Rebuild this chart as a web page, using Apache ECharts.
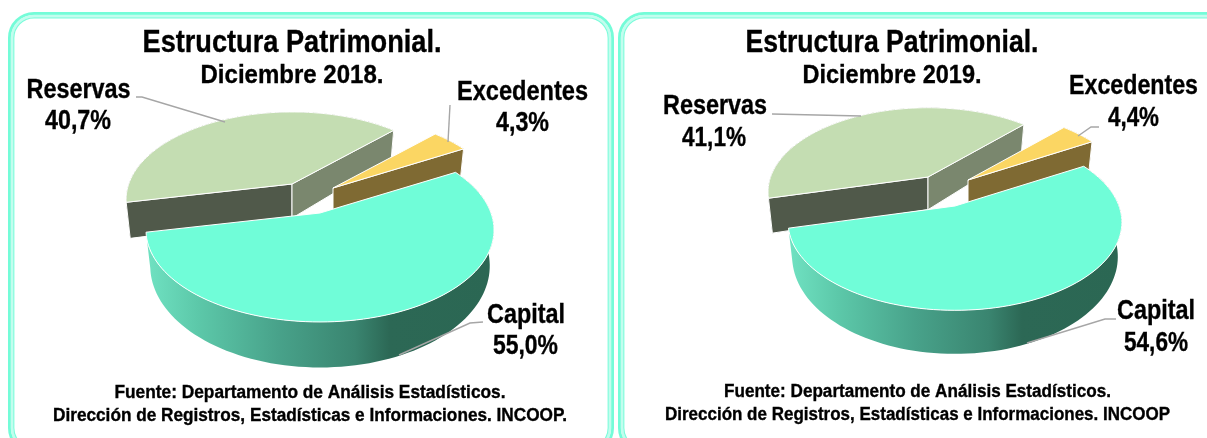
<!DOCTYPE html>
<html><head><meta charset="utf-8">
<style>html,body{margin:0;padding:0;background:#fff}#c{width:1207px;height:438px}</style>
<script src="https://cdn.jsdelivr.net/npm/echarts@6/dist/echarts.min.js"></script>
</head><body><div id="c"></div>
<script>
// ---------- data ----------
const categories = ['Reservas', 'Excedentes', 'Capital'];
const shares2018 = [40.7, 4.3, 55.0];
const shares2019 = [41.1, 4.4, 54.6];
const titleText = 'Estructura Patrimonial.';
const subtitle2018 = 'Diciembre 2018.';
const subtitle2019 = 'Diciembre 2019.';
const source2018 = ['Fuente: Departamento de Análisis Estadísticos.', 'Dirección de Registros, Estadísticas e Informaciones. INCOOP.'];
const source2019 = ['Fuente: Departamento de Análisis Estadísticos.', 'Dirección de Registros, Estadísticas e Informaciones. INCOOP'];

// ---------- layout / style ----------
const FONT = '"Liberation Sans", Arial, sans-serif';
const K = 0.185, M = 0.025, DEPTH_TILT = 0.15;
const layout2018 = {
  start: 168, f: 171, g: 88.8, D: 35,
  apex: [[292, 184], [333, 188], [320, 213]], r: [0.955, 0.96, 1],
  title: [292, 43, 299, 31], sub: [292, 76, 183, 26],
  src: [[310, 393, 391, 18], [310, 416, 514, 18]],
  name: [[78.5, 91, 104, 27], [522.5, 93, 131, 27], [526, 316, 78, 27]],
  pct: [[78, 122, 66, 27], [522.5, 124, 53, 27], [525.5, 347, 65, 27]],
  leader: [[[136, 97], [142, 97], [225, 122]], [[450, 105], [448, 142]], [[483, 322], [470, 323], [399, 355]]]
};
const layout2019 = {
  start: 165.6, f: 164, g: 85, D: 33.5,
  apex: [[928, 177], [968, 180], [955, 206]], r: [0.96, 0.96, 1],
  title: [892, 43, 293, 31], sub: [892, 76, 179, 26],
  src: [[917.5, 392, 387, 18], [917.5, 415, 505, 18]],
  name: [[715, 107, 104, 27], [1133.5, 87, 129, 27], [1156, 312, 78, 27]],
  pct: [[714, 139, 64, 27], [1133.5, 119, 51, 27], [1156, 344, 64, 27]],
  leader: [[[772, 114], [861, 116]], [[1099, 127], [1091, 127], [1078, 136]], [[1116, 319], [1105, 319], [1027, 343]]]
};
const topColors = ['#c4ddb2', '#fbd663', '#70fdd8'];
const wallColors = ['#50594a', '#7f6a33', null];
const sideColors = ['#7a876e', '#7f6a33', null];
const capitalWall = [[0, '#70e2c2'], [0.15, '#5cc8a9'], [0.38, '#48a28a'], [0.6, '#3a8570'], [0.7, '#2c6855'], [1, '#2b6753']];
const leaderColor = '#a6a6a6';

// ---------- helpers ----------
const ctx = document.createElement('canvas').getContext('2d');
function textEl(text, spec) {
  const cx = spec[0], cy = spec[1], w = spec[2], size = spec[3];
  ctx.font = 'bold ' + size + 'px ' + FONT;
  const sx = w / ctx.measureText(text).width;
  return {
    type: 'text', x: cx, y: cy, scaleX: sx, z2: 50, silent: true,
    style: { text: text, fill: '#000', stroke: '#000', lineWidth: 0.35, font: 'bold ' + size + 'px ' + FONT, align: 'center', verticalAlign: 'middle' }
  };
}
function project(deg, apex, r, Z, L) {
  const a = deg * Math.PI / 180, X = r * Math.cos(a), Y = r * Math.sin(a);
  const w = (1 - K * Y) * (1 + M * Z);
  return [apex[0] + L.f * X / w, apex[1] + (L.g * Y + L.D * (1 + DEPTH_TILT * Y) * Z) / w];
}
function arcPts(a0, a1, apex, r, Z, L) {
  const n = Math.max(6, Math.ceil(Math.abs(a1 - a0) / 2)), out = [];
  for (let i = 0; i <= n; i++) out.push(project(a0 + (a1 - a0) * i / n, apex, r, Z, L));
  return out;
}
const edge = { stroke: '#fff', lineWidth: 1 };
function poly(points, fill, z2, stroke) {
  return { type: 'polygon', z2: z2, shape: { points: points },
    style: Object.assign({ fill: fill }, stroke === false ? {} : edge) };
}
function pieSeries(shares, L) {
  const total = shares.reduce((s, v) => s + v, 0);
  const seriesData = categories.map((c, i) => ({ name: c, value: shares[i] }));
  return {
    type: 'custom', coordinateSystem: 'none', silent: true, data: seriesData,
    renderItem: function (params, api) {
      const i = params.dataIndex;
      let before = 0;
      for (let j = 0; j < i; j++) before += shares[j];
      const a0 = L.start + 360 * before / total;
      const a1 = a0 + 360 * api.value(0) / total;
      const apex = L.apex[i], r = L.r[i];
      const apexLow = [apex[0], apex[1] + L.D / (1 + M)];
      const kids = [];
      const topRim = arcPts(a0, a1, apex, r, 0, L);
      const lowRim = arcPts(a0, a1, apex, r, 1, L);
      const base = i * 10;
      const wallFill = i === 2
        ? new echarts.graphic.LinearGradient(0, 0, 1, 0, capitalWall.map(s => ({ offset: s[0], color: s[1] })))
        : wallColors[i];
      kids.push(poly(topRim.concat(lowRim.slice().reverse()), wallFill, base + 1, false));
      if (i === 0) {
        kids.push(poly([apex, topRim[0], lowRim[0], apexLow], wallColors[0], base + 2));
        kids.push(poly([apex, topRim[topRim.length - 1], lowRim[lowRim.length - 1], apexLow], sideColors[0], base + 3));
      } else if (i === 1) {
        kids.push(poly([apex, topRim[topRim.length - 1], lowRim[lowRim.length - 1], apexLow], sideColors[1], base + 3));
      }
      kids.push(poly([apex].concat(topRim), topColors[i], base + 5));
      kids.push({ type: 'polyline', z2: 40, shape: { points: L.leader[i] }, style: { stroke: leaderColor, lineWidth: 1.4, fill: null } });
      const pctText = api.value(0).toFixed(1).replace('.', ',') + '%';
      kids.push(textEl(categories[i], L.name[i]));
      kids.push(textEl(pctText, L.pct[i]));
      return { type: 'group', children: kids };
    }
  };
}
function panel(x, y, w, h) {
  const rect = (ins, stroke, lw) => ({
    type: 'rect', z: -10, silent: true,
    shape: { x: x + ins, y: y + ins, width: w - 2 * ins, height: h - 2 * ins, r: 26 - ins },
    style: { fill: null, stroke: stroke, lineWidth: lw }
  });
  return [rect(1.5, '#74fcd8', 3), rect(4, '#c2fdee', 2.6), rect(5.8, '#7dfcdb', 1.2)];
}
function labels(sub, src, L) {
  return [textEl(titleText, L.title), textEl(sub, L.sub), textEl(src[0], L.src[0]), textEl(src[1], L.src[1])];
}

const chart = echarts.init(document.getElementById('c'), null, { renderer: 'canvas' });
chart.setOption({
  animation: false,
  backgroundColor: '#fff',
  graphic: [].concat(
    panel(8, 12, 606, 442), panel(618, 12, 640, 442),
    labels(subtitle2018, source2018, layout2018),
    labels(subtitle2019, source2019, layout2019)
  ),
  series: [pieSeries(shares2018, layout2018), pieSeries(shares2019, layout2019)]
});
</script></body></html>
